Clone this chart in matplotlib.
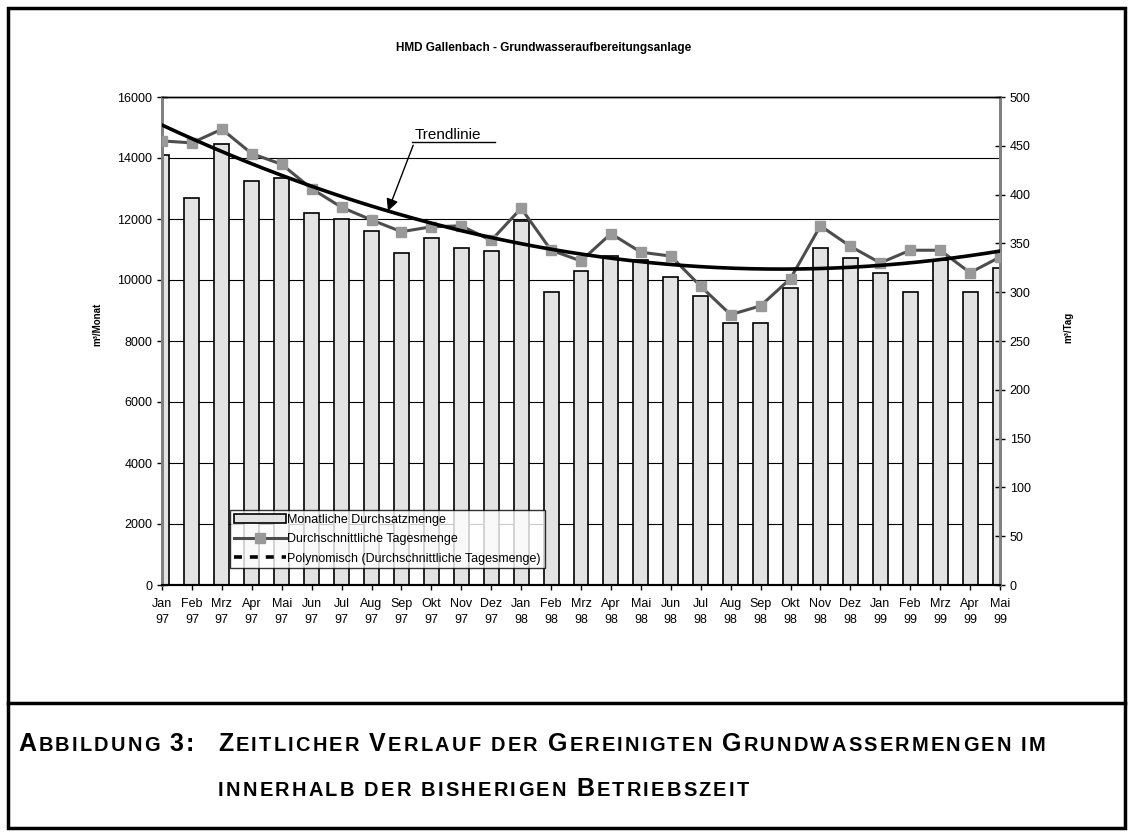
import numpy as np
import matplotlib
matplotlib.use("Agg")
from matplotlib import pyplot as plt
from matplotlib.lines import Line2D
from matplotlib.patches import Patch, Rectangle

plt.rcParams['font.family'] = ['Liberation Sans', 'DejaVu Sans']

months = ['Jan', 'Feb', 'Mrz', 'Apr', 'Mai', 'Jun', 'Jul', 'Aug', 'Sep', 'Okt', 'Nov', 'Dez',
          'Jan', 'Feb', 'Mrz', 'Apr', 'Mai', 'Jun', 'Jul', 'Aug', 'Sep', 'Okt', 'Nov', 'Dez',
          'Jan', 'Feb', 'Mrz', 'Apr', 'Mai']
years = ['97'] * 12 + ['98'] * 12 + ['99'] * 5

# m³/Monat
monthly = [14100, 12700, 14450, 13250, 13350, 12200, 12000, 11600, 10880, 11380, 11050, 10950,
           11950, 9600, 10300, 10800, 10650, 10100, 9480, 8590, 8590, 9730, 11050, 10730,
           10220, 9600, 10650, 9600, 10400]
# m³/Tag
daily = [455, 453, 467, 442, 431, 406, 387, 374, 362, 367, 368, 353,
         386, 343, 332, 360, 341, 337, 306, 277, 286, 314, 368, 347,
         330, 343, 343, 320, 336]

W, H = 1133, 835
fig = plt.figure(figsize=(W / 100, H / 100), dpi=100)

x = np.arange(len(months))
ax = fig.add_axes([162 / W, 1 - 585 / H, 838 / W, 488 / H])
ax2 = ax.twinx()

ax.bar(x, monthly, width=0.5, color='#e3e3e3', edgecolor='black', linewidth=1.2, zorder=2)
ax.set_ylim(0, 16000)
ax.set_yticks(range(0, 16001, 2000))
ax.set_xlim(0, len(months) - 1)
ax.set_xticks(x)
ax.set_xticklabels([m + '\n' + y for m, y in zip(months, years)], linespacing=1.45)
ax.yaxis.grid(True, color='black', linewidth=0.8)
ax.set_axisbelow(True)

# polynomische Trendlinie (2. Ordnung) wie in Excel
coef = np.polyfit(x + 1, daily, 2)
xs = np.linspace(0, len(months) - 1, 300)
trend = np.polyval(coef, xs + 1)

ax2.plot(x, daily, color='#4d4d4d', linewidth=2.2, marker='s', markersize=6.5,
         markerfacecolor='#999999', markeredgecolor='#999999', zorder=3)
ax2.plot(xs, trend, color='black', linewidth=2.6, zorder=4)
ax2.set_ylim(0, 500)
ax2.set_yticks(range(0, 501, 50))

for a in (ax, ax2):
    a.spines['left'].set_color('#808080')
    a.spines['right'].set_color('#808080')
    a.spines['left'].set_linewidth(2)
    a.spines['right'].set_linewidth(2)
    a.spines['top'].set_linewidth(1)
    a.spines['bottom'].set_linewidth(1.5)
    a.tick_params(direction='inout', length=7, width=1, labelsize=9, colors='black')
ax.tick_params(axis='x', pad=6)

ax.set_ylabel('m³/Monat', fontsize=7, fontweight='bold')
ax.yaxis.set_label_coords(-0.071, 0.535)
ax2.set_ylabel('m³/Tag', fontsize=7, fontweight='bold', rotation=90)
ax2.yaxis.set_label_coords(1.076, 0.527)

ax.set_title('HMD Gallenbach - Grundwasseraufbereitungsanlage', fontsize=8.5,
             fontweight='bold', pad=33, x=0.455)

# Trendlinie-Beschriftung
tx = 7.55
ax2.annotate('Trendlinie', xy=(tx, np.polyval(coef, tx + 1)), xytext=(0.301, 0.913),
             textcoords='axes fraction', fontsize=11, ha='left', va='baseline',
             arrowprops=dict(arrowstyle='-|>', color='black', lw=1, mutation_scale=18,
                             shrinkA=0, shrinkB=0, relpos=(0, 0)), zorder=6)
ax2.plot([0.298, 0.397], [0.908, 0.908], transform=ax2.transAxes, color='black', lw=1)

handles = [Patch(facecolor='#e3e3e3', edgecolor='black', linewidth=1.2),
           Line2D([], [], color='#4d4d4d', lw=2.2, marker='s', markersize=6.5,
                  markerfacecolor='#999999', markeredgecolor='#999999'),
           Line2D([], [], color='black', lw=2.6, linestyle=(0, (2.2, 2.2)))]
labels = ['Monatliche Durchsatzmenge', 'Durchschnittliche Tagesmenge',
          'Polynomisch (Durchschnittliche Tagesmenge)']
leg = ax2.legend(handles, labels, loc='lower left', bbox_to_anchor=(0.081, 0.034),
                 fontsize=9, frameon=True, fancybox=False, borderpad=0.3,
                 handlelength=4.2, handletextpad=0.1, labelspacing=0.6, borderaxespad=0)
leg.get_frame().set_edgecolor('black')
leg.get_frame().set_linewidth(1)
leg.set_zorder(10)

# Rahmen und Trennlinie
fig.patches.append(Rectangle((7.5 / W, 1 - 828 / H), 1117.5 / W, 820.5 / H, transform=fig.transFigure,
                             fill=False, edgecolor='black', linewidth=2.5))
fig.add_artist(Line2D([7.5 / W, 1125 / W], [1 - 703 / H, 1 - 703 / H], color='black', linewidth=2.5))

# Bildunterschrift in Kapitälchen
renderer = fig.canvas.get_renderer()


def smallcaps(x_px, y_px, text, big=18, small=14.4, gap=8, spacing=2.2):
    xp = x_px
    for word in text.split():
        for ch in word:
            size = small if ch.islower() else big
            t = fig.text(xp / W, 1 - y_px / H, ch.upper(), fontsize=size, fontweight='bold',
                         ha='left', va='baseline')
            xp += t.get_window_extent(renderer).width + spacing
        xp += gap
    return xp


smallcaps(18, 751, 'Abbildung 3:')
smallcaps(218, 751, 'Zeitlicher Verlauf der Gereinigten Grundwassermengen im')
smallcaps(218, 796, 'innerhalb der bisherigen Betriebszeit')

fig.savefig('out.png', dpi=100)
